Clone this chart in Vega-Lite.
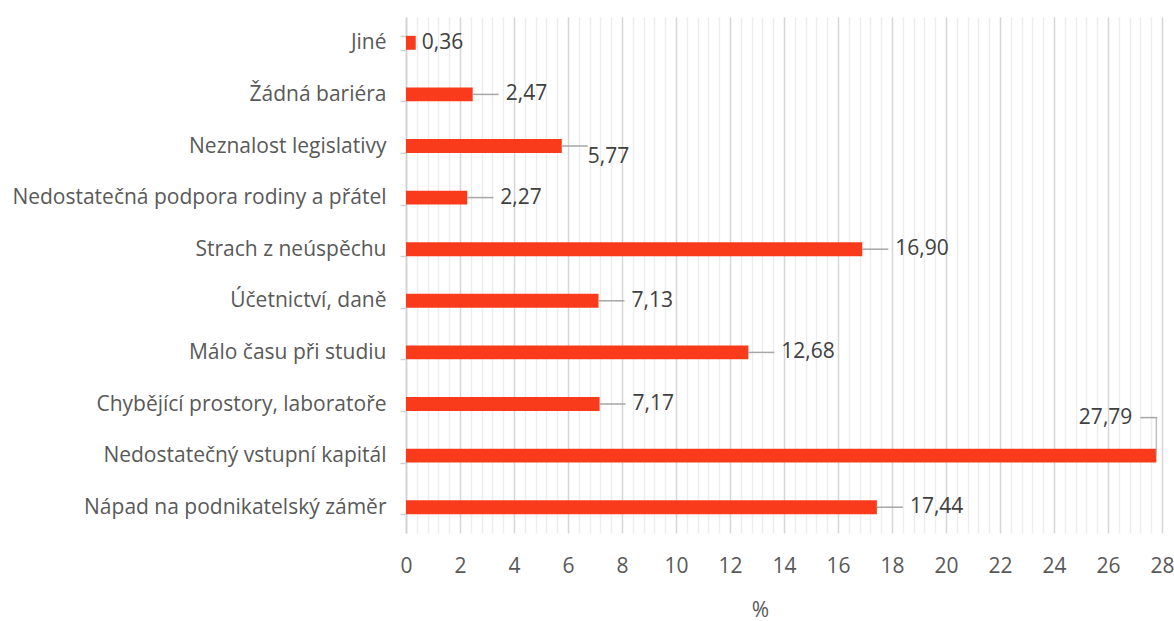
{
  "$schema": "https://vega.github.io/schema/vega-lite/v6.json",
  "width": 756,
  "height": 516,
  "autosize": {"type": "none"},
  "padding": {"left": 406, "top": 17, "right": 12, "bottom": 88},
  "background": "white",
  "config": {
    "view": {"stroke": null},
    "font": "Open Sans",
    "locale": {"number": {"decimal": ",", "thousands": " ", "grouping": [3], "currency": ["", " Kč"]}}
  },
  "data": {
    "values": [
      {"kategorie": "Jiné", "hodnota": 0.36},
      {"kategorie": "Žádná bariéra", "hodnota": 2.47},
      {"kategorie": "Neznalost legislativy", "hodnota": 5.77},
      {"kategorie": "Nedostatečná podpora rodiny a přátel", "hodnota": 2.27},
      {"kategorie": "Strach z neúspěchu", "hodnota": 16.90},
      {"kategorie": "Účetnictví, daně", "hodnota": 7.13},
      {"kategorie": "Málo času při studiu", "hodnota": 12.68},
      {"kategorie": "Chybějící prostory, laboratoře", "hodnota": 7.17},
      {"kategorie": "Nedostatečný vstupní kapitál", "hodnota": 27.79},
      {"kategorie": "Nápad na podnikatelský záměr", "hodnota": 17.44}
    ]
  },
  "resolve": {"axis": {"x": "independent"}},
  "layer": [
    {
      "mark": {"type": "bar", "color": "#F93A1B"},
      "encoding": {
        "y": {
          "field": "kategorie", "type": "nominal", "sort": null,
          "scale": {"paddingInner": 0.73, "paddingOuter": 0.365},
          "axis": {
            "title": null, "domainColor": "#D0D0D0", "domainWidth": 1.5,
            "tickColor": "#D0D0D0", "tickSize": 6, "tickWidth": 1.5, "tickBand": "extent",
            "labelFontSize": 21, "labelColor": "#595959", "labelPadding": 14, "labelLimit": 450
          }
        },
        "x": {
          "field": "hodnota", "type": "quantitative",
          "scale": {"domain": [0, 28], "nice": false},
          "axis": {
            "orient": "bottom", "title": null, "labels": false, "ticks": false, "domain": false,
            "grid": true, "gridColor": "#EDEDED", "gridWidth": 1.5,
            "values": [0.4,0.8,1.2,1.6,2.4,2.8,3.2,3.6,4.4,4.8,5.2,5.6,6.4,6.8,7.2,7.6,8.4,8.8,9.2,9.6,10.4,10.8,11.2,11.6,12.4,12.8,13.2,13.6,14.4,14.8,15.2,15.6,16.4,16.8,17.2,17.6,18.4,18.8,19.2,19.6,20.4,20.8,21.2,21.6,22.4,22.8,23.2,23.6,24.4,24.8,25.2,25.6,26.4,26.8,27.2,27.6]
          }
        }
      }
    },
    {
      "transform": [{"filter": "datum.hodnota != 0.36 && datum.hodnota != 27.79"}],
      "mark": {"type": "rule", "color": "#A6A6A6", "strokeWidth": 1.5, "x2Offset": 26},
      "encoding": {
        "y": {"field": "kategorie", "type": "nominal", "sort": null},
        "x": {
          "field": "hodnota", "type": "quantitative",
          "axis": {
            "orient": "bottom", "title": "%", "titleFontSize": 21, "titleColor": "#595959",
            "titleFontWeight": "normal", "titlePadding": 23, "titleX": 354, "titleAlign": "center",
            "labelFontSize": 21, "labelColor": "#595959", "labelPadding": 22, "labelFlush": false,
            "ticks": false, "domain": false, "grid": true, "gridColor": "#D6D6D6", "gridWidth": 1.5,
            "values": [0,2,4,6,8,10,12,14,16,18,20,22,24,26,28]
          }
        },
        "x2": {"field": "hodnota"}
      }
    },
    {
      "transform": [{"filter": "datum.hodnota == 27.79"}],
      "mark": {"type": "tick", "color": "#A6A6A6", "thickness": 1.5, "size": 38, "yOffset": -19, "orient": "vertical"},
      "encoding": {
        "y": {"field": "kategorie", "type": "nominal", "sort": null},
        "x": {"field": "hodnota", "type": "quantitative", "axis": null}
      }
    },
    {
      "transform": [{"filter": "datum.hodnota == 27.79"}],
      "mark": {"type": "rule", "color": "#A6A6A6", "strokeWidth": 1.5, "xOffset": -16, "x2Offset": 1, "yOffset": -38},
      "encoding": {
        "y": {"field": "kategorie", "type": "nominal", "sort": null},
        "x": {"field": "hodnota", "type": "quantitative", "axis": null},
        "x2": {"field": "hodnota"}
      }
    },
    {
      "transform": [{"filter": "datum.hodnota != 0.36 && datum.hodnota != 27.79 && datum.hodnota != 5.77"}],
      "mark": {"type": "text", "align": "left", "baseline": "middle", "dx": 33, "fontSize": 21, "color": "#404040"},
      "encoding": {
        "y": {"field": "kategorie", "type": "nominal", "sort": null},
        "x": {"field": "hodnota", "type": "quantitative", "axis": null},
        "text": {"field": "hodnota", "type": "quantitative", "format": ".2f"}
      }
    },
    {
      "transform": [{"filter": "datum.hodnota == 5.77"}],
      "mark": {"type": "text", "align": "left", "baseline": "middle", "dx": 26, "dy": 11, "fontSize": 21, "color": "#404040"},
      "encoding": {
        "y": {"field": "kategorie", "type": "nominal", "sort": null},
        "x": {"field": "hodnota", "type": "quantitative", "axis": null},
        "text": {"field": "hodnota", "type": "quantitative", "format": ".2f"}
      }
    },
    {
      "transform": [{"filter": "datum.hodnota == 0.36"}],
      "mark": {"type": "text", "align": "left", "baseline": "middle", "dx": 6, "fontSize": 21, "color": "#404040"},
      "encoding": {
        "y": {"field": "kategorie", "type": "nominal", "sort": null},
        "x": {"field": "hodnota", "type": "quantitative", "axis": null},
        "text": {"field": "hodnota", "type": "quantitative", "format": ".2f"}
      }
    },
    {
      "transform": [{"filter": "datum.hodnota == 27.79"}],
      "mark": {"type": "text", "align": "right", "baseline": "middle", "dx": -24, "dy": -38, "fontSize": 21, "color": "#404040"},
      "encoding": {
        "y": {"field": "kategorie", "type": "nominal", "sort": null},
        "x": {"field": "hodnota", "type": "quantitative", "axis": null},
        "text": {"field": "hodnota", "type": "quantitative", "format": ".2f"}
      }
    }
  ]
}
